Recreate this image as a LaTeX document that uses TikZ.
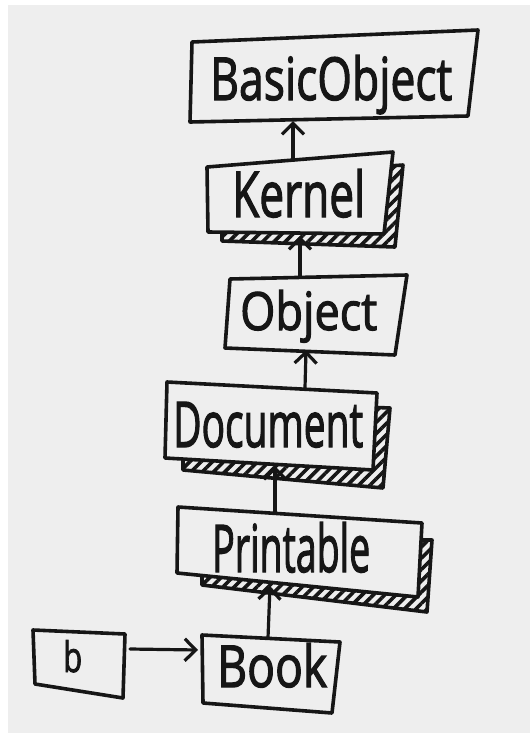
\documentclass[tikz,border=0pt]{standalone}
\usepackage{fontspec}
\setmainfont{Open Sans}
\newfontfamily\handfont{Open Sans}[FakeBold=2.2]
\usetikzlibrary{arrows.meta,patterns.meta}
\definecolor{paper}{RGB}{238,238,238}
\definecolor{ink}{RGB}{22,22,22}
\begin{document}
\begin{tikzpicture}[x=1pt,y=-1pt,
  inkline/.style={draw=ink,line width=3.6pt,line join=round,line cap=round},
  boxshape/.style={inkline,fill=paper},
  shadowshape/.style={inkline,pattern={Lines[angle=45,distance=8pt,line width=3.6pt]},pattern color=ink},
  conn/.style={draw=ink,line width=3.2pt,line cap=round,-{Straight Barb[length=11pt,width=22pt,line width=3.2pt]}},
  lbl/.style={inner sep=0pt,anchor=base west,text=ink,font=\handfont}]
\useasboundingbox (0,0) rectangle (530,742);
\fill[white] (0,0) rectangle (530,742);
\fill[paper] (8,5) rectangle (530,733);

% BasicObject
\draw[boxshape] (192,42) -- (478,30) -- (468,116) -- (190,122) -- cycle;
\node[lbl] (bo) at (210,100) {\resizebox{242pt}{45pt}{BasicObject}};
% Kernel
\draw[shadowshape] (222,178) -- (403,165) -- (395,247) -- (222,241) -- cycle;
\draw[boxshape] (207,167) -- (393,152) -- (384,234) -- (208,232) -- cycle;
\node[lbl] (kern) at (232,217) {\resizebox{133pt}{48pt}{Kernel}};
% Object
\draw[boxshape] (230,279) -- (407,275) -- (395,355) -- (225,348) -- cycle;
\node[lbl] (obj) at (240,330) {\resizebox{137pt}{40pt}{Object}};
% Document
\draw[shadowshape] (183,400) -- (390,408) -- (383,488) -- (183,470) -- cycle;
\draw[boxshape] (167,382) -- (377,393) -- (373,470) -- (165,458) -- cycle;
\node[lbl] (doc) at (173,447) {\resizebox{190pt}{45pt}{Document}};
% Printable
\draw[shadowshape] (202,540) -- (432,540) -- (427,612) -- (202,585) -- cycle;
\draw[boxshape] (178,507) -- (422,523) -- (418,597) -- (177,573) -- cycle;
\node[lbl] (prn) at (212,572) {\resizebox{158pt}{50pt}{Printable}};
% Book
\draw[boxshape] (202,635) -- (340,642) -- (332,713) -- (203,703) -- cycle;
\node[lbl] (book) at (217,687) {\resizebox{110pt}{44pt}{Book}};
% b
\draw[boxshape] (33,630) -- (125,634) -- (123,698) -- (35,684) -- cycle;
\node[lbl] (b) at (63,672) {\resizebox{19pt}{32pt}{b}};

% connector end points
\coordinate (bo-s) at (293,121);
\coordinate (kern-n) at (293,160);
\coordinate (kern-s) at (300,236);
\coordinate (obj-n) at (300,277);
\coordinate (obj-s) at (306,350);
\coordinate (doc-n) at (305,388);
\coordinate (doc-s) at (275,466);
\coordinate (prn-n) at (275,512);
\coordinate (prn-s) at (270,586);
\coordinate (book-n) at (268,638);
\coordinate (book-w) at (198,650);
\coordinate (b-e) at (130,649);

\draw[conn] (kern-n) -- (bo-s);
\draw[conn] (obj-n) -- (kern-s);
\draw[conn] (doc-n) -- (obj-s);
\draw[conn] (prn-n) -- (doc-s);
\draw[conn] (book-n) -- (prn-s);
\draw[conn] (b-e) -- (book-w);
\end{tikzpicture}
\end{document}
